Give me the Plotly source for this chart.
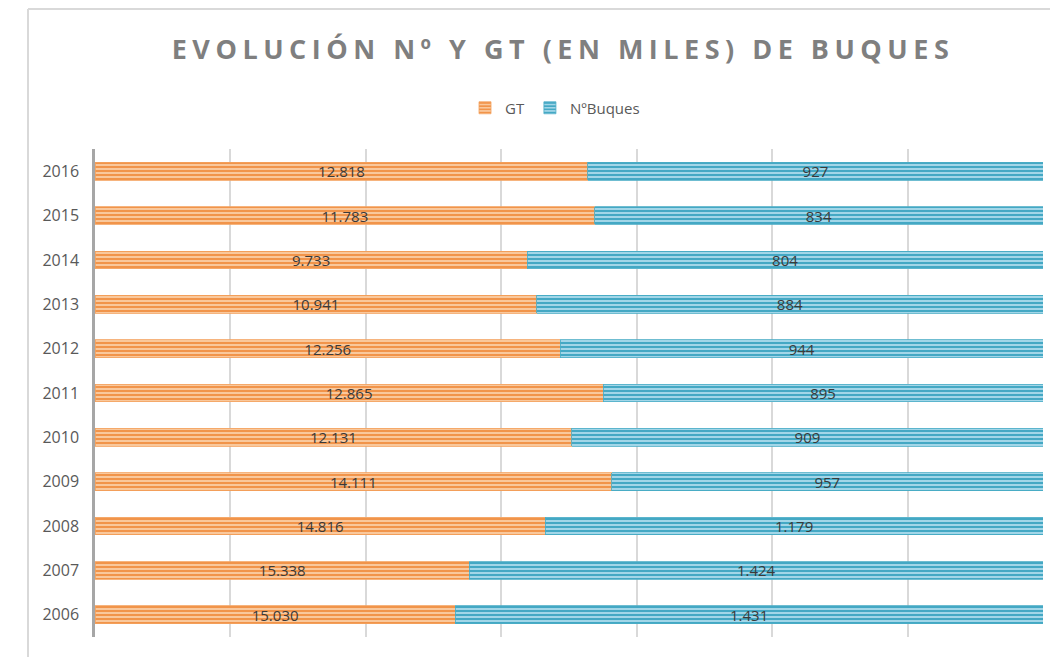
import plotly.graph_objects as go

# ---- data ----
years = ["2016", "2015", "2014", "2013", "2012", "2011", "2010", "2009", "2008", "2007", "2006"]
gt_thousands = [12.818, 11.783, 9.733, 10.941, 12.256, 12.865, 12.131, 14.111, 14.816, 15.338, 15.030]
num_buques = [927, 834, 804, 884, 944, 895, 909, 957, 1179, 1424, 1431]
# share of each bar (percent of full bar length) as drawn in the picture
gt_share_pct = [52.0, 52.7, 45.6, 46.6, 49.1, 53.6, 50.3, 54.5, 47.5, 39.5, 38.0]
buques_share_pct = [48.0, 47.3, 54.4, 53.4, 50.9, 46.4, 49.7, 45.5, 52.5, 60.5, 62.0]

gt_text = [f"{v:.3f}" for v in gt_thousands]
buques_text = [f"{v:,}".replace(",", ".") for v in num_buques]

FONT = "Open Sans"
LABEL_COLOR = "#3A3A3A"

# The page body has an 8px margin, so the figure is drawn 8px smaller.
W, H, OFF = 1050, 649, 8

fig = go.Figure()
fig.add_trace(go.Bar(
    name="GT", y=years, x=gt_share_pct, orientation="h",
    text=gt_text, textposition="inside", insidetextanchor="middle",
    textfont=dict(family=FONT, size=15, color=LABEL_COLOR),
    marker=dict(color="#F9C89C", line=dict(color="#F4A15E", width=0.8),
                pattern=dict(shape="-", fgcolor="#F1944A", bgcolor="#F9C89C",
                             size=4, solidity=0.5, fillmode="replace")),
    hoverinfo="skip",
))
fig.add_trace(go.Bar(
    name="NºBuques", y=years, x=buques_share_pct, orientation="h",
    text=buques_text, textposition="inside", insidetextanchor="middle",
    textfont=dict(family=FONT, size=15, color=LABEL_COLOR),
    marker=dict(color="#A2D6E8", line=dict(color="#4BACC6", width=0.8),
                pattern=dict(shape="-", fgcolor="#44A8C4", bgcolor="#A2D6E8",
                             size=4, solidity=0.5, fillmode="replace")),
    hoverinfo="skip",
))

fig.update_layout(
    width=W, height=H,
    barmode="stack", bargap=0.6,
    paper_bgcolor="white", plot_bgcolor="white",
    margin=dict(l=95 - OFF, r=15, t=149 - OFF, b=20),
    font=dict(family=FONT, color="#595959"),
    title=dict(
        text='<span style="letter-spacing:5.5px">EVOLUCIÓN Nº Y GT (EN MILES) DE BUQUES</span>',
        font=dict(family=FONT, size=27, color="#7F7F7F", weight="bold"),
        x=(563 - OFF) / W, xref="container", xanchor="center",
        y=1 - (50 - OFF) / H, yref="container", yanchor="middle",
    ),
    legend=dict(
        orientation="h", x=(555 - OFF) / W, xref="container", xanchor="center",
        y=1 - (108 - OFF) / H, yref="container", yanchor="middle",
        font=dict(family=FONT, size=15, color="#595959"),
        itemwidth=30, traceorder="normal",
    ),
    uniformtext=dict(mode="show", minsize=15),
    showlegend=True,
)
fig.update_xaxes(
    range=[0, 100], dtick=100 / 7, tick0=0, showticklabels=False,
    showgrid=True, gridcolor="#D9D9D9", gridwidth=1.5, zeroline=False,
    showline=False, fixedrange=True,
)
fig.update_yaxes(
    autorange="reversed", type="category",
    showline=True, linecolor="#A6A6A6", linewidth=2.5,
    ticks="", tickfont=dict(family=FONT, size=16, color="#595959"),
    ticklabelstandoff=10, showgrid=False, fixedrange=True,
)

# light chart frame (top and left edges); page-pixel to paper conversion
px_to_yp = lambda p: (637 - p) / 488
px_to_xp = lambda p: (p - 95) / 948
fig.add_shape(type="line", xref="paper", yref="paper",
              x0=px_to_xp(28), x1=px_to_xp(28), y0=px_to_yp(660), y1=px_to_yp(9),
              line=dict(color="#D9D9D9", width=2))
fig.add_shape(type="line", xref="paper", yref="paper",
              x0=px_to_xp(28), x1=px_to_xp(1060), y0=px_to_yp(9), y1=px_to_yp(9),
              line=dict(color="#D9D9D9", width=2))

fig.write_html("out.html")
